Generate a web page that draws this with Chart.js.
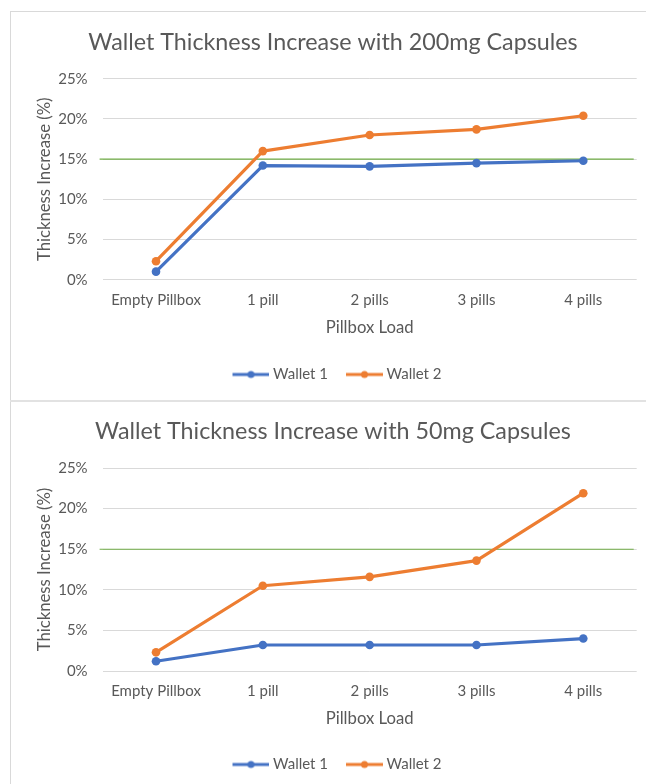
<!DOCTYPE html>
<html><head><meta charset="utf-8">
<script src="https://cdn.jsdelivr.net/npm/chart.js@4.4.1/dist/chart.umd.min.js"></script>
<style>
html,body{margin:0;padding:0;background:#fff;overflow:hidden;width:646px;height:784px;}
.box{position:absolute;}
#b1{left:10px;top:11px;width:700px;height:389px;border-left:1px solid #d9d9d9;border-top:1px solid #d9d9d9;}
#sep{left:10px;top:400px;width:700px;height:2px;background:#e2e2e2;}
#b2{left:10px;top:402px;width:700px;height:400px;border-left:1px solid #d9d9d9;}
#c1{position:absolute;left:11px;top:13px;}
#c2{position:absolute;left:11px;top:403px;}
</style></head><body>
<div class="box" id="b1"></div><div class="box" id="sep"></div><div class="box" id="b2"></div>
<canvas id="c1" width="644" height="386"></canvas>
<canvas id="c2" width="644" height="381"></canvas>
<script>
// ---- data ----
const categories = ['Empty Pillbox', '1 pill', '2 pills', '3 pills', '4 pills'];
const seriesNames = ['Wallet 1', 'Wallet 2'];
const wallet1_200mg = [1.0, 14.2, 14.1, 14.5, 14.8];
const wallet2_200mg = [2.3, 16.0, 18.0, 18.7, 20.4];
const wallet1_50mg = [1.2, 3.2, 3.2, 3.2, 4.0];
const wallet2_50mg = [2.3, 10.5, 11.6, 13.6, 21.9];
const yMin = 0, yMax = 25, yStep = 5;
const threshold = 15;
const titles = ['Wallet Thickness Increase with 200mg Capsules', 'Wallet Thickness Increase with 50mg Capsules'];
const xTitle = 'Pillbox Load';
const yTitle = 'Thickness Increase (%)';

// ---- style ----
const FONT = 'Lato';
const GRAY = '#595959';
const GRID = '#d9d9d9';
const GREEN = '#70AD47';
const COLORS = ['#4472C4', '#ED7D31'];

function markerImage(color) {
  const c = document.createElement('canvas');
  c.width = 49; c.height = 10;
  const g = c.getContext('2d');
  g.strokeStyle = color; g.lineWidth = 3; g.lineCap = 'butt';
  g.beginPath(); g.moveTo(12, 5); g.lineTo(49, 5); g.stroke();
  g.fillStyle = color; g.beginPath(); g.arc(30.5, 5, 3.5, 0, Math.PI * 2); g.fill();
  return c;
}
const markers = COLORS.map(markerImage);

const thresholdLine = {
  id: 'thresholdLine',
  beforeDatasetsDraw(chart) {
    const y = chart.scales.y.getPixelForValue(threshold);
    const a = chart.chartArea;
    const ctx = chart.ctx;
    ctx.save();
    ctx.strokeStyle = GREEN; ctx.lineWidth = 1.2;
    ctx.beginPath(); ctx.moveTo(a.left - 3, y); ctx.lineTo(a.right - 3, y); ctx.stroke();
    ctx.restore();
  }
};

function makeChart(id, titleText, s1, s2, L) {
  const series = [s1, s2];
  new Chart(document.getElementById(id), {
    type: 'line',
    plugins: [thresholdLine],
    data: {
      labels: categories,
      datasets: series.map((d, i) => ({
        label: seriesNames[i], data: d,
        borderColor: COLORS[i], backgroundColor: COLORS[i],
        pointBackgroundColor: COLORS[i], pointBorderColor: COLORS[i],
        borderWidth: 3.2, pointRadius: 4.3, pointBorderWidth: 0, pointHoverRadius: 4.3,
        tension: 0, borderJoinStyle: 'round', borderCapStyle: 'round',
        order: series.length - i, fill: false
      }))
    },
    options: {
      responsive: false, animation: false, devicePixelRatio: 1,
      layout: { padding: { top: L.padTop, left: 0, right: 0, bottom: L.padBottom } },
      plugins: {
        title: { display: true, text: titleText, color: GRAY,
          font: { family: FONT, size: 23.3, weight: 'normal' },
          padding: { top: 0, bottom: L.titleGap } },
        legend: { position: 'bottom',
          labels: { color: GRAY, font: { family: FONT, size: 15 }, usePointStyle: true,
            pointStyleWidth: 41, padding: 10,
            sort: (a, b) => a.datasetIndex - b.datasetIndex,
            generateLabels: (chart) => {
              const items = Chart.defaults.plugins.legend.labels.generateLabels(chart);
              items.forEach(it => { it.pointStyle = markers[it.datasetIndex]; });
              return items;
            } } },
        tooltip: { enabled: false }
      },
      scales: {
        x: { type: 'category', offset: true,
          grid: { display: false }, border: { display: false },
          ticks: { color: GRAY, font: { family: FONT, size: 15 }, padding: L.xTickPad, maxRotation: 0, autoSkip: false },
          title: { display: true, text: xTitle, color: GRAY, font: { family: FONT, size: 16.7 }, padding: { top: 0, bottom: L.xTitlePad } },
          afterFit: s => { s.height = L.xH; } },
        y: { type: 'linear', position: 'left', min: yMin, max: yMax,
          ticks: { stepSize: yStep, callback: v => v + '%', color: GRAY, font: { family: FONT, size: 15 }, padding: 15 },
          grid: { drawTicks: false, lineWidth: 1, color: GRID },
          border: { display: false },
          title: { display: true, text: yTitle, color: GRAY, font: { family: FONT, size: 16.7 }, padding: { top: 24, bottom: 0 } },
          afterFit: s => { s.width = 91.6; } },
        y2: { type: 'linear', position: 'right', display: true,
          grid: { display: false }, border: { display: false }, ticks: { display: false },
          afterFit: s => { s.width = 18.3; } }
      }
    }
  });
}

makeChart('c1', titles[0], wallet1_200mg, wallet2_200mg,
  { padTop: 15.9, titleGap: 21.9, padBottom: 7, xH: 77.3, xTickPad: 3, xTitlePad: 19.3 });
makeChart('c2', titles[1], wallet1_50mg, wallet2_50mg,
  { padTop: 14.6, titleGap: 22.5, padBottom: 2, xH: 76, xTickPad: 3, xTitlePad: 18 });
</script>
</body></html>
